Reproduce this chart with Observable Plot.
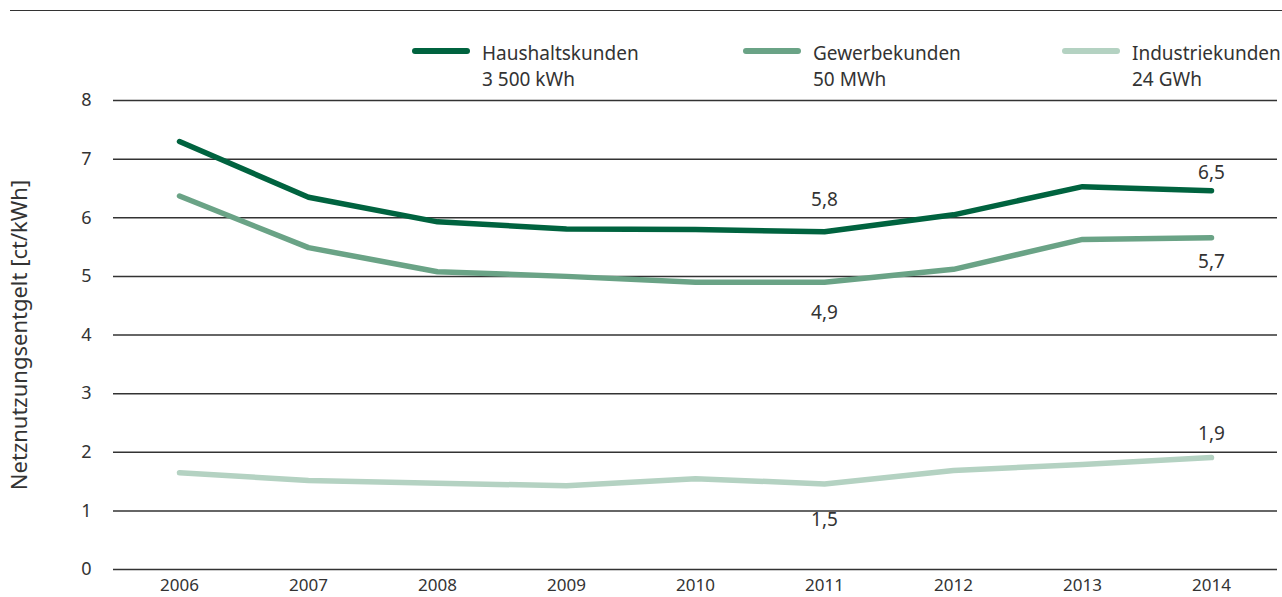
<!DOCTYPE html>
<html><head><meta charset="utf-8">
<script src="https://cdn.jsdelivr.net/npm/d3@7"></script>
<script src="https://cdn.jsdelivr.net/npm/@observablehq/plot@0.6"></script>
<style>
body{margin:0;background:#fff;font-family:"Noto Sans",sans-serif;color:#333;}
#wrap{position:relative;width:1282px;height:597px;overflow:hidden;background:#fff}
#rule{position:absolute;left:10px;right:0;top:10px;border-top:1.5px solid #333}
.leg{position:absolute;top:40px;height:56px;z-index:2}
.sw{position:absolute;top:8px;width:58px;height:6px;border-radius:3px}
.tx{position:absolute;top:0;font-size:19px;line-height:26px;white-space:nowrap;color:#333}
#chart{position:absolute;left:0;top:70px;z-index:1}
</style></head>
<body>
<div id="wrap">
  <div id="rule"></div>
  <div id="legend"></div>
  <div id="chart"></div>
</div>
<script>
const years = [2006, 2007, 2008, 2009, 2010, 2011, 2012, 2013, 2014];
const seriesNames = ["Haushaltskunden", "Gewerbekunden", "Industriekunden"];
const seriesSub = ["3 500 kWh", "50 MWh", "24 GWh"];
const seriesColors = ["#00633f", "#6aa386", "#b4d2c2"];
const haushalt = [7.30, 6.35, 5.93, 5.81, 5.80, 5.76, 6.05, 6.53, 6.46];
const gewerbe  = [6.37, 5.49, 5.08, 5.00, 4.90, 4.90, 5.12, 5.63, 5.66];
const industrie = [1.65, 1.52, 1.47, 1.43, 1.55, 1.46, 1.69, 1.79, 1.91];
const yTicks = [0, 1, 2, 3, 4, 5, 6, 7, 8];
const yLabel = "Netznutzungsentgelt [ct/kWh]";

const seriesValues = [haushalt, gewerbe, industrie];
const data = [];
seriesNames.forEach((s, i) => years.forEach((y, j) => data.push({series: s, year: y, value: seriesValues[i][j]})));

// legend (HTML)
const legendLeft = [412, 743, 1062];
const legend = document.getElementById("legend");
seriesNames.forEach((s, i) => {
  const d = document.createElement("div");
  d.className = "leg";
  d.style.left = legendLeft[i] + "px";
  d.innerHTML = `<div class="sw" style="left:0;background:${seriesColors[i]}"></div>
    <div class="tx" style="left:70px">${s}<br>${seriesSub[i]}</div>`;
  legend.appendChild(d);
});

const fmt = v => v.toFixed(1).replace(".", ",");
const label = (series, year, dy) => Plot.text(data.filter(d => d.series === series && d.year === year), {
  x: "year", y: "value", text: d => fmt(d.value), dy, fill: "#333", fontSize: 19
});

const chart = Plot.plot({
  width: 1282,
  height: 527,
  marginTop: 30,
  marginBottom: 28,
  marginLeft: 113,
  marginRight: 5,
  style: {fontFamily: '"Noto Sans", sans-serif', fontSize: "17px", color: "#333", background: "transparent"},
  x: {type: "point", domain: years, padding: 0.5},
  y: {domain: [0, 8]},
  color: {domain: seriesNames, range: seriesColors},
  marks: [
    Plot.ruleY(yTicks, {stroke: "#333", strokeWidth: 1.5}),
    Plot.axisY({ticks: yTicks, tickSize: 0, tickPadding: 22, fontSize: 18, label: null, fill: "#333"}),
    Plot.axisY({ticks: [], tickSize: 0, label: yLabel, labelAnchor: "center", labelArrow: "none", labelOffset: 102, fontSize: 22, fill: "#333"}),
    Plot.axisX({tickSize: 0, tickPadding: 9, label: null, fontSize: 17, tickFormat: d => String(d), fill: "#333"}),
    Plot.line(data.slice().reverse(), {x: "year", y: "value", z: "series", stroke: "series", strokeWidth: 5.5, strokeLinecap: "round", strokeLinejoin: "round"}),
    label("Haushaltskunden", 2011, -32),
    label("Haushaltskunden", 2014, -18),
    label("Gewerbekunden", 2011, 31),
    label("Gewerbekunden", 2014, 24),
    label("Industriekunden", 2011, 36),
    label("Industriekunden", 2014, -24)
  ]
});
document.getElementById("chart").appendChild(chart);
</script>
</body></html>
